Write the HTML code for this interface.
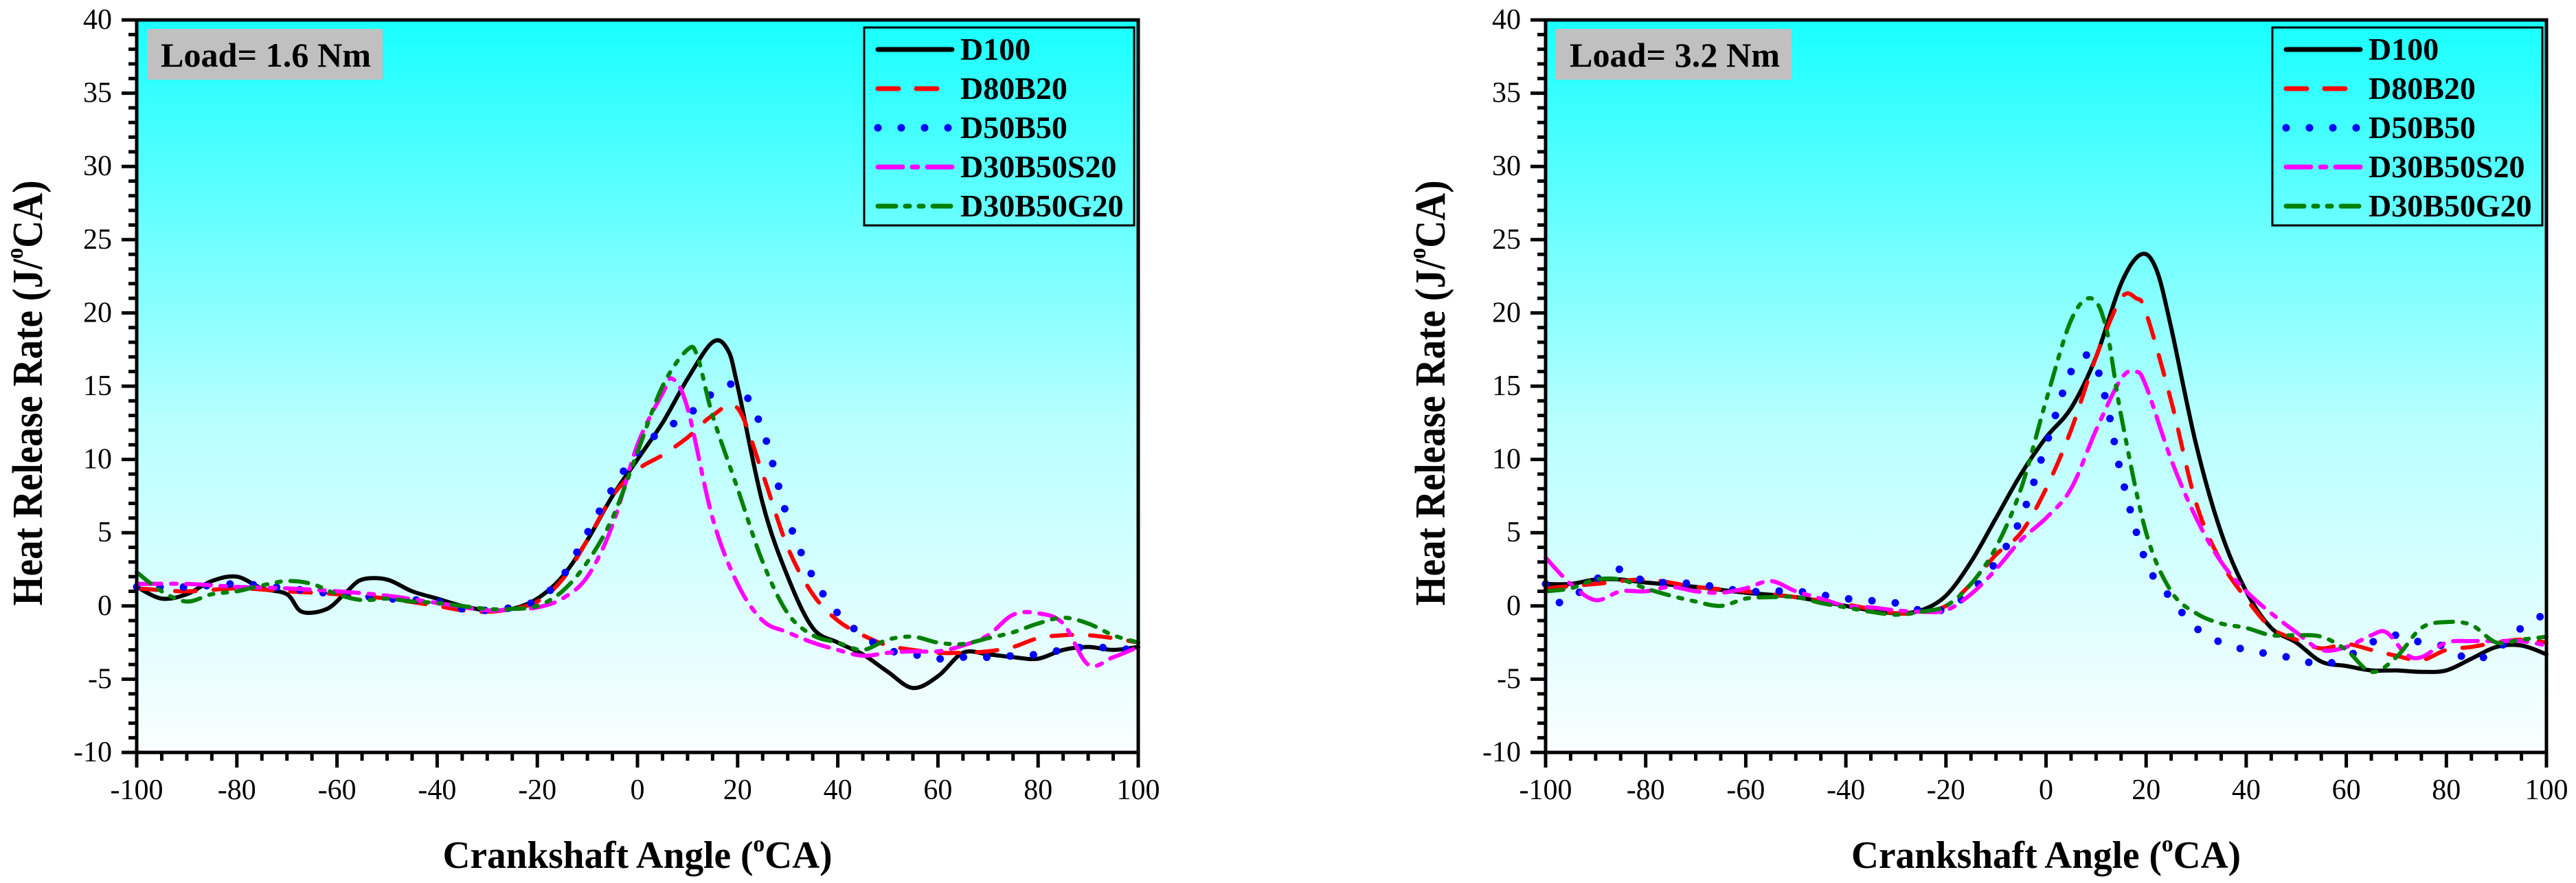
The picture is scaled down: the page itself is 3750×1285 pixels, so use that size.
<!DOCTYPE html>
<html><head><meta charset="utf-8"><style>
html,body{margin:0;padding:0;background:#fff;width:3750px;height:1285px;overflow:hidden}
svg text{font-family:"Liberation Serif",serif}
</style></head><body>
<svg id="svg" width="3750" height="1285" xmlns="http://www.w3.org/2000/svg">
<defs>
<linearGradient id="bg" x1="0" y1="0" x2="0" y2="1">
<stop offset="0" stop-color="#18ffff"/><stop offset="0.55" stop-color="#b8ffff"/><stop offset="1" stop-color="#fafefe"/>
</linearGradient>
</defs>
</svg>
<script>
// ---- data: Load 1.6 Nm ----
const a_D100_x=[-100,-95,-90,-85,-80,-75,-70,-67,-62,-58,-55,-50,-45,-40,-35,-30,-25,-20,-15,-10,-5,0,5,10,15,18,20,25,30,35,40,45,50,55,60,65,70,75,80,85,90,95,100];
const a_D100_y=[1.3,0.5,0.8,1.7,2.0,1.2,0.8,-0.4,-0.2,1.0,1.8,1.8,1.0,0.5,0,-0.3,-0.2,0.5,2,4.5,7.5,10,12.5,15.5,18,17.5,15,7,2,-1.5,-2.5,-3.3,-4.5,-5.6,-4.8,-3.2,-3.3,-3.5,-3.6,-3,-2.8,-3,-2.8];
const a_D80_x=[-100,-90,-80,-70,-60,-50,-40,-35,-30,-25,-20,-15,-10,-5,0,5,10,15,20,25,30,35,40,45,50,55,60,65,70,75,80,85,90,95,100];
const a_D80_y=[1.2,1.0,1.2,1.0,0.8,0.5,0,-0.3,-0.4,-0.2,0.3,1.8,4.5,7.5,9.3,10.3,11.5,13,13.5,9,4,0.8,-1,-2,-2.7,-3,-3.2,-3.2,-3.1,-2.8,-2.2,-2,-2,-2.2,-2.5];
const a_D50_x=[-100,-90,-80,-70,-60,-50,-40,-35,-30,-25,-20,-15,-10,-5,0,5,10,15,20,25,30,35,40,45,50,55,60,65,70,75,80,85,90,95,100];
const a_D50_y=[1.3,1.3,1.5,1.2,0.8,0.5,0.3,-0.2,-0.3,-0.1,0.4,2,5,8,10.5,12,13,14.5,15,12,6,2,-0.5,-2,-3,-3.3,-3.6,-3.5,-3.5,-3.4,-3.3,-3,-2.8,-2.9,-3];
const a_S20_x=[-100,-90,-80,-70,-60,-50,-40,-30,-25,-20,-15,-10,-5,0,5,7,10,15,20,25,30,35,40,45,50,55,60,65,70,75,80,85,90,95,100];
const a_S20_y=[1.5,1.5,1.3,1.2,1.0,0.7,0.2,-0.3,-0.2,-0.1,0.5,2,5.5,11,14.5,15.5,13.5,6,1.5,-1,-1.8,-2.5,-3,-3.4,-3.2,-3.1,-3.1,-2.7,-2,-0.6,-0.5,-1.2,-4,-3.5,-2.8];
const a_G20_x=[-100,-95,-90,-85,-80,-75,-70,-65,-60,-55,-50,-45,-40,-30,-25,-20,-15,-10,-5,0,5,10,12,15,20,25,30,35,40,45,50,55,60,65,70,75,80,85,90,95,100];
const a_G20_y=[2.3,1,0.3,0.8,1,1.4,1.7,1.5,0.8,0.4,0.5,0.3,0.2,-0.2,-0.2,0,1,3,6,10.5,15,17.5,17,13,8,3,-0.5,-2,-2.5,-3,-2.3,-2.1,-2.5,-2.6,-2.2,-1.8,-1.2,-0.8,-1.2,-2,-2.5];
// ---- data: Load 3.2 Nm ----
const b_D100_x=[-100,-95,-90,-85,-80,-70,-60,-50,-40,-35,-30,-25,-20,-15,-10,-5,0,5,10,15,19,22,25,30,35,40,45,50,55,60,65,70,75,80,85,90,95,100];
const b_D100_y=[1.5,1.5,1.8,1.8,1.6,1.3,0.9,0.6,0,-0.3,-0.5,-0.3,0.7,3,6,9,11.5,13.5,17,22,24,23,19,11,5,1,-1.5,-2.5,-3.8,-4.1,-4.4,-4.4,-4.5,-4.4,-3.6,-2.8,-2.7,-3.3];
const b_D80_x=[-100,-90,-80,-70,-60,-50,-40,-30,-25,-20,-15,-10,-5,0,5,10,15,18,20,25,30,35,40,45,50,55,60,65,70,75,80,85,90,95,100];
const b_D80_y=[1.2,1.5,1.8,1.3,1.0,0.6,0.1,-0.5,-0.4,0,1.5,3.5,5,8,12,17,21,21,20,14,7,3,0.5,-1.5,-2.3,-2.9,-2.6,-3,-3.4,-3.7,-3,-2.8,-2.5,-2.3,-2.5];
const b_D50_x=[-100,-97,-93,-90,-85,-80,-70,-60,-50,-40,-30,-25,-20,-15,-10,-5,0,5,9,12,15,20,25,30,35,40,45,50,55,60,65,70,75,80,85,90,95,100];
const b_D50_y=[1.5,0.2,1,1.8,2.5,1.7,1.5,1,1,0.5,0.2,-0.3,-0.2,1,3,6,11,16,17,14,9,3,0.5,-1.5,-2.5,-3,-3.3,-3.6,-4,-3.5,-2.5,-2,-2.5,-2.8,-3.7,-3,-1.5,-0.5];
const b_S20_x=[-100,-95,-90,-85,-80,-75,-70,-65,-60,-55,-50,-45,-40,-35,-30,-25,-20,-15,-10,-5,0,5,10,15,18,20,25,30,35,40,45,50,55,60,65,68,72,75,80,85,90,95,100];
const b_S20_y=[3.3,1.5,0.4,1,1,1.3,1,0.9,1.2,1.7,1,0.5,0,-0.1,-0.3,-0.4,-0.3,0.8,2.5,4.5,6,8,12,15.5,16,15,10,6,3,1,-0.5,-1.8,-3,-2.8,-2,-1.8,-3.3,-3.5,-2.5,-2.4,-2.4,-2.4,-2.7];
const b_G20_x=[-100,-95,-90,-85,-80,-75,-70,-65,-60,-55,-50,-45,-40,-35,-30,-25,-20,-15,-10,-5,0,5,9,12,15,20,25,30,35,40,45,50,55,60,65,70,75,80,85,90,95,100];
const b_G20_y=[1,1.2,1.8,1.8,1.2,0.7,0.3,0,0.5,0.6,0.6,0.2,-0.1,-0.4,-0.6,-0.4,0,1.5,4,8,14,19.5,21,19,13,5,1,-0.5,-1.2,-1.5,-2,-2,-2.1,-3,-4.5,-3.5,-1.5,-1.1,-1.3,-2.5,-2.3,-2.1];
const seriesNames=["D100","D80B20","D50B50","D30B50S20","D30B50G20"];
const xTicks=[-100,-80,-60,-40,-20,0,20,40,60,80,100];
const yTicks=[-10,-5,0,5,10,15,20,25,30,35,40];

const NS="http://www.w3.org/2000/svg";
const svg=document.getElementById('svg');
function mk(tag,attrs,parent){const e=document.createElementNS(NS,tag);for(const k in attrs)e.setAttribute(k,attrs[k]);(parent||svg).appendChild(e);return e;}
const styles=[
 {color:"#000",dash:"none",cap:"round"},
 {color:"#ff0000",dash:"30 26",cap:"round"},
 {color:"#0000ff",dash:"0 34",cap:"round",w:11},
 {color:"#ff00ff",dash:"36 14 8 14",cap:"round"},
 {color:"#008000",dash:"26 14 6 14 6 14",cap:"round"}
];
function smoothPath(pts){
 let d="M"+pts[0][0].toFixed(1)+","+pts[0][1].toFixed(1);
 for(let i=0;i<pts.length-1;i++){
  const p0=pts[Math.max(0,i-1)],p1=pts[i],p2=pts[i+1],p3=pts[Math.min(pts.length-1,i+2)];
  const c1=[p1[0]+(p2[0]-p0[0])/6,p1[1]+(p2[1]-p0[1])/6];
  const c2=[p2[0]-(p3[0]-p1[0])/6,p2[1]-(p3[1]-p1[1])/6];
  d+=" C"+c1[0].toFixed(1)+","+c1[1].toFixed(1)+" "+c2[0].toFixed(1)+","+c2[1].toFixed(1)+" "+p2[0].toFixed(1)+","+p2[1].toFixed(1);
 }
 return d;
}
function chart(id,L,R,T,B,titleX,load,series){
 const g=mk('g',{});
 
 
 const sx=v=>L+(v+100)/200*(R-L);
 const sy=v=>B-(v+10)/50*(B-T);
 const bg=mk('rect',{x:L,y:T,width:R-L,height:B-T,fill:'url(#bg)'},g);
 
 
 // series
 series.forEach((s,i)=>{
  const pts=s[0].map((x,j)=>[sx(x),sy(s[1][j])]);
  const st=styles[i];
  const p=mk('path',{d:smoothPath(pts),fill:'none',stroke:st.color,'stroke-width':st.w||6,'stroke-dasharray':st.dash,'stroke-linecap':st.cap,'stroke-linejoin':'round'},g);
  
  
 });
 // frame
 const fr=mk('rect',{x:L,y:T,width:R-L,height:B-T,fill:'none',stroke:'#000','stroke-width':5},g);
 
 
 // y ticks
 for(let v=-10;v<=40;v++){
  const major=v%5===0;
  mk('line',{x1:L-(major?22:12),x2:L,y1:sy(v),y2:sy(v),stroke:'#000','stroke-width':5},g);
 }
 yTicks.forEach(v=>{
  const t=mk('text',{x:L-36,y:sy(v)+13,'text-anchor':'end','font-size':42},g);
  t.textContent=v;
  
  
 });
 for(let v=-100;v<=100;v+=5){
  const major=v%20===0;
  mk('line',{x1:sx(v),x2:sx(v),y1:B,y2:B+(major?22:12),stroke:'#000','stroke-width':5},g);
 }
 xTicks.forEach(v=>{
  const t=mk('text',{x:sx(v),y:1163,'text-anchor':'middle','font-size':42},g);
  t.textContent=v;
  
  
 });
 // axis titles
 const xt=mk('text',{x:(L+R)/2,y:1263,'text-anchor':'middle','font-size':56,'font-weight':'bold',textLength:567,lengthAdjust:'spacingAndGlyphs'},g);
 xt.innerHTML='Crankshaft Angle (<tspan font-size="34" dy="-24">o</tspan><tspan dy="24">CA)</tspan>';
 
 
 const cy=(T+B)/2+10;
 const yt=mk('text',{x:titleX,y:cy,'text-anchor':'middle','font-size':62,'font-weight':'bold',textLength:619,lengthAdjust:'spacingAndGlyphs',transform:'rotate(-90 '+titleX+' '+cy+')'},g);
 yt.innerHTML='Heat Release Rate (J/<tspan font-size="36" dy="-28">o</tspan><tspan dy="28">CA)</tspan>';
 
 
 // load box
 const lb=mk('rect',{x:L+15,y:42,width:343,height:74,fill:'#c0c0c0'},g);
 
 
 const lt=mk('text',{x:L+35,y:97,'font-size':50,'font-weight':'bold',textLength:306,lengthAdjust:'spacingAndGlyphs'},g);
 lt.textContent='Load= '+load+' Nm';
 
 
 // legend
 const lg=mk('g',{},g);
 
 
 const LX=R-399;
 mk('rect',{x:LX,y:40,width:393,height:288,fill:'none',stroke:'#000','stroke-width':3},lg);
 seriesNames.forEach((n,i)=>{
  const y=72+i*57;
  const st=styles[i];
  const e=mk('g',{},lg);
  
  
  mk('line',{x1:LX+20,x2:LX+128,y1:y,y2:y,stroke:st.color,'stroke-width':st.w||7,'stroke-dasharray':st.dash,'stroke-linecap':st.cap},e);
  const t=mk('text',{x:LX+140,y:y+15,'font-size':46,'font-weight':'bold'},e);
  t.textContent=n;
 });
}
chart('chart-load-1-6',199,1657,29,1095,61,'1.6',[[a_D100_x,a_D100_y],[a_D80_x,a_D80_y],[a_D50_x,a_D50_y],[a_S20_x,a_S20_y],[a_G20_x,a_G20_y]]);
chart('chart-load-3-2',2250,3707,29,1095,2103,'3.2',[[b_D100_x,b_D100_y],[b_D80_x,b_D80_y],[b_D50_x,b_D50_y],[b_S20_x,b_S20_y],[b_G20_x,b_G20_y]]);
</script>
</body></html>
